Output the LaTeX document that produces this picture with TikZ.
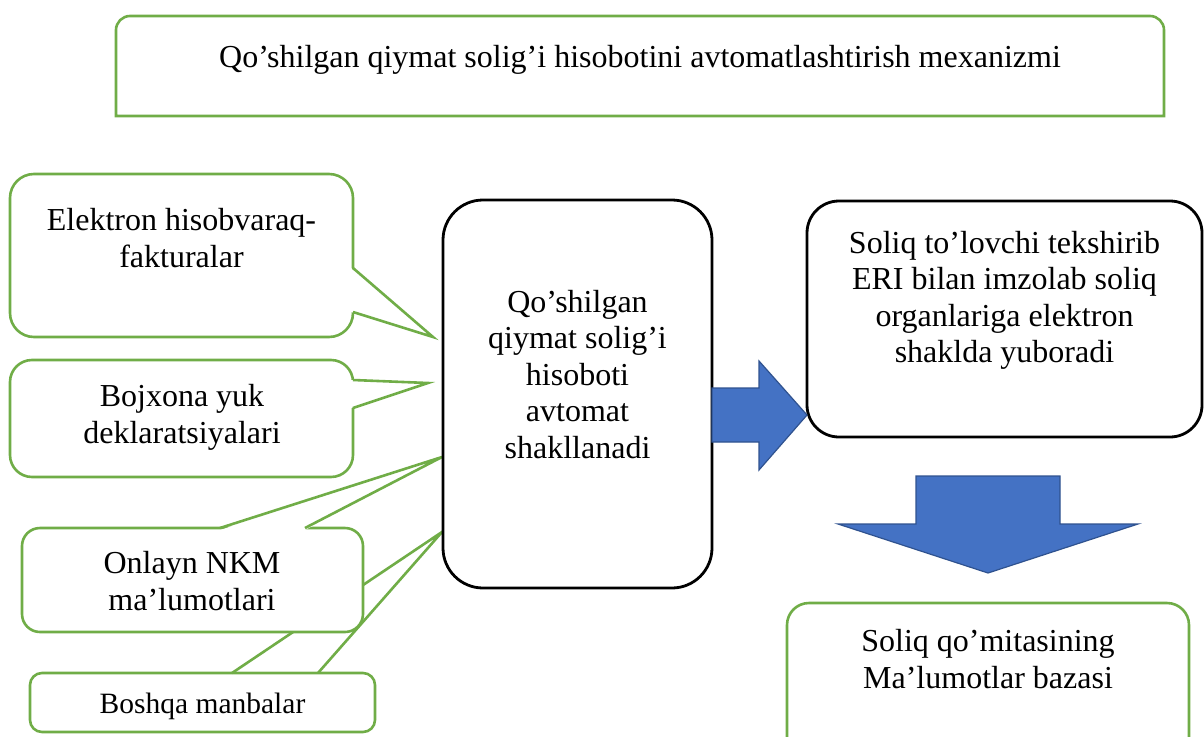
\documentclass[tikz,border=0pt]{standalone}
\usepackage{fontspec}
\setmainfont{Liberation Serif}
\definecolor{ogreen}{HTML}{70AD47}
\definecolor{oblue}{HTML}{4472C4}
\definecolor{oblueline}{HTML}{2F528F}
\begin{document}
\begin{tikzpicture}[x=1pt,y=-1pt,
  gbox/.style={draw=ogreen, line width=2.6pt, fill=white, inner sep=0pt},
  kbox/.style={draw=black, line width=2.8pt, fill=white, inner sep=0pt},
  gline/.style={draw=ogreen, line width=2.6pt, line join=miter},
  txt/.style={font=\fontsize{32}{36.5}\selectfont, align=center, anchor=base, inner sep=0pt},
  smalltxt/.style={font=\fontsize{29.5}{34}\selectfont, align=center, anchor=base, inner sep=0pt},
  barrow/.style={fill=oblue, draw=oblueline, line width=1.2pt, line join=miter}]
\useasboundingbox (0,0) rectangle (1204,736);

% title box
\draw[gline, fill=white] (116,116) -- (116,30) .. controls (116,22.3) and (122.3,16) .. (130,16)
  -- (1150,16) .. controls (1157.7,16) and (1164,22.3) .. (1164,30) -- (1164,116) -- cycle;
\node[txt] (title) at (640,67) {Qo’shilgan qiymat solig’i hisobotini avtomatlashtirish mexanizmi};

% Boshqa manbalar callout (drawn first, lies behind Onlayn)
\node[gbox, rounded corners=12pt, minimum width=345pt, minimum height=59pt] (bosh) at (202.5,702.5) {};
\coordinate (boshTip) at (442,532);
\fill[white] (232,671) -- (boshTip) -- (318,671) -- cycle;
\draw[gline] (232,673) -- (boshTip) -- (318,673);
\node[smalltxt] (boshT) at (202.5,713) {Boshqa manbalar};

% Onlayn NKM callout
\node[gbox, rounded corners=18pt, minimum width=341pt, minimum height=104pt] (onl) at (192.5,580) {};
\coordinate (onlTip) at (442,457);
\fill[white] (220,530) -- (onlTip) -- (305,530) -- cycle;
\draw[gline] (220,528) -- (onlTip) -- (305,528);
\node[txt] (onlT) at (192,610) {Onlayn NKM\\ma’lumotlari};

% Bojxona callout
\node[gbox, rounded corners=22pt, minimum width=343pt, minimum height=117pt] (boj) at (181.5,418.5) {};
\coordinate (bojTip) at (428,383);
\fill[white] (351,380) -- (bojTip) -- (351,408) -- cycle;
\draw[gline] (353,380) -- (bojTip) -- (353,408);
\node[txt] (bojT) at (182,443) {Bojxona yuk\\deklaratsiyalari};

% Elektron callout
\node[gbox, rounded corners=24pt, minimum width=343pt, minimum height=163pt] (elek) at (181.5,255.5) {};
\coordinate (elekTip) at (433,337);
\fill[white] (351,268) -- (elekTip) -- (351,312) -- cycle;
\draw[gline] (353,268) -- (elekTip) -- (353,312);
\node[txt] (elekT) at (181.5,267) {Elektron hisobvaraq-\\fakturalar};

% central box
\node[kbox, rounded corners=40pt, minimum width=269pt, minimum height=388pt] (cen) at (577.5,394) {};
\node[txt] (cenT) at (577.5,458) {Qo’shilgan\\qiymat solig’i\\hisoboti\\avtomat\\shakllanadi};

% right box
\node[kbox, rounded corners=32pt, minimum width=395pt, minimum height=236pt] (rbox) at (1004.5,319) {};
\node[txt] (rboxT) at (1004.5,362.5) {Soliq to’lovchi tekshirib\\ERI bilan imzolab soliq\\organlariga elektron\\shaklda yuboradi};

% bottom box
\node[gbox, rounded corners=22pt, minimum width=402pt, minimum height=157pt] (db) at (988,681.5) {};
\node[txt] (dbT) at (988,688) {Soliq qo’mitasining\\Ma’lumotlar bazasi};

% block arrows
\draw[barrow] (712,388) -- (759,388) -- (759,361) -- (807,415) -- (759,470) -- (759,442) -- (712,442) -- cycle;
\draw[barrow] (916,476) -- (1060,476) -- (1060,524) -- (1138,524) -- (988,573) -- (838,524) -- (916,524) -- cycle;
\end{tikzpicture}
\end{document}
